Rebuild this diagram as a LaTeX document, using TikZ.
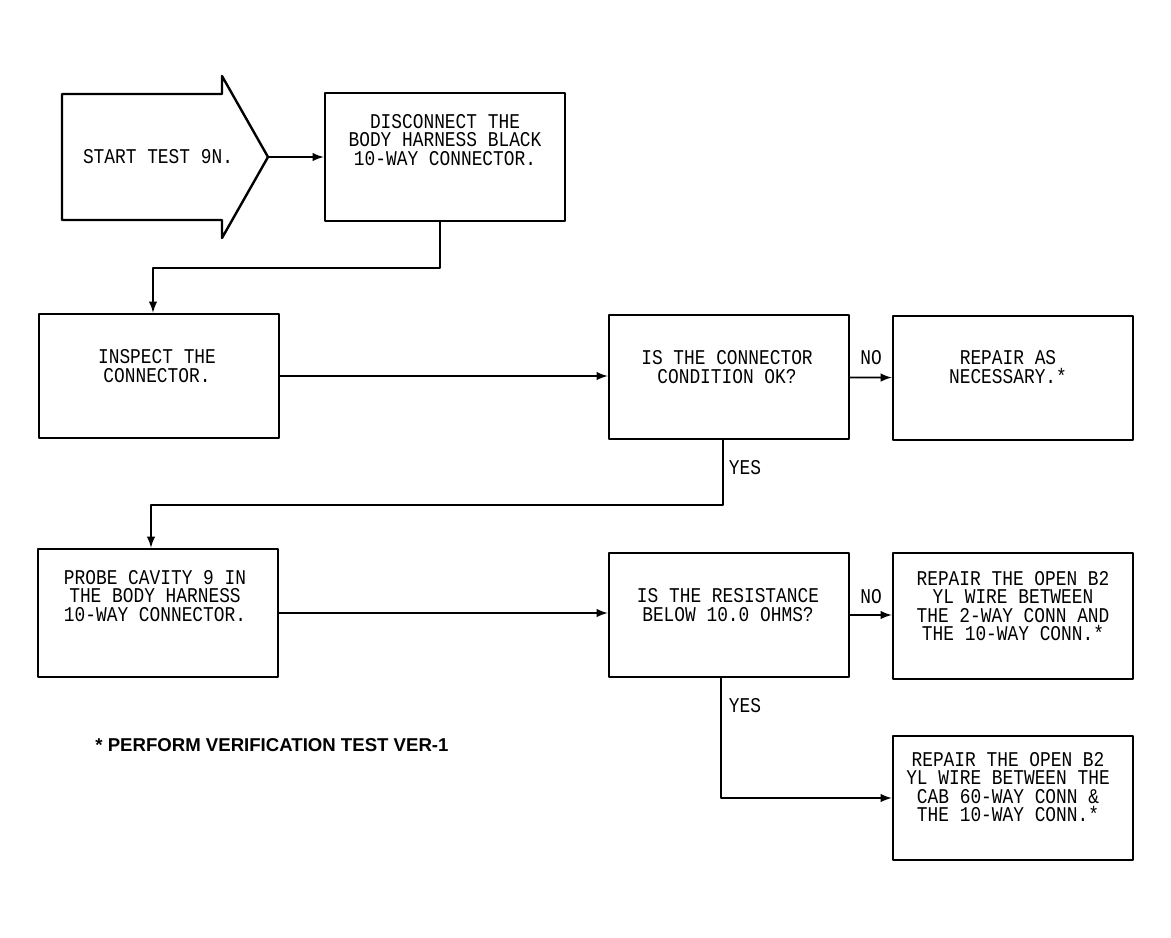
\documentclass[tikz,border=0pt]{standalone}
\usepackage{fontspec}
\newfontfamily\plotfont[FakeStretch=0.85]{Liberation Mono}
\newfontfamily\notefont{Liberation Sans}
\usetikzlibrary{arrows}

\tikzset{
  stepbox/.style={draw,line width=1.3pt,minimum width=120pt,minimum height=62pt,inner sep=0pt},
  boxtext/.style={font=\plotfont\fontsize{10.5}{9.3}\selectfont,align=center,inner sep=0pt},
  flow/.style={->,line width=0.9pt},
}

\begin{document}
\begin{tikzpicture}[line cap=round,line join=round,>=latex,x=0.5pt,y=-0.5pt]
\useasboundingbox (0,0) rectangle (1171,937);
% start arrow
\draw[line width=1.2pt] (62,94) -- (222,94) -- (222,76) -- (268,157) -- (222,238) -- (222,220) -- (62,220) -- cycle;
\coordinate (tip) at (268,157);
\node[boxtext] (start) at (158,157) {START TEST 9N.};
% boxes
\node[stepbox,minimum height=64pt] (disc) at (445,157) {};
\node[stepbox] (inspect) at (159,376) {};
\node[stepbox] (cond) at (729,377) {};
\node[stepbox] (rep1) at (1013,378) {};
\node[stepbox,minimum height=64pt] (probe) at (158,613) {};
\node[stepbox] (resist) at (729,615) {};
\node[stepbox,minimum height=63pt] (rep2) at (1013,616) {};
\node[stepbox] (rep3) at (1013,798) {};
% texts
\node[boxtext] (disct) at (445,140) {DISCONNECT THE\\BODY HARNESS BLACK\\10-WAY CONNECTOR.};
\node[boxtext] (inspectt) at (157,366) {INSPECT THE\\CONNECTOR.};
\node[boxtext] (condt) at (727,367) {IS THE CONNECTOR\\CONDITION OK?};
\node[boxtext] (rep1t) at (1008,367) {REPAIR AS\\NECESSARY.*};
\node[boxtext] (probet) at (155,596) {PROBE CAVITY 9 IN\\THE BODY HARNESS\\10-WAY CONNECTOR.};
\node[boxtext] (resistt) at (728,605) {IS THE RESISTANCE\\BELOW 10.0 OHMS?};
\node[boxtext] (rep2t) at (1013,606) {REPAIR THE OPEN B2\\YL WIRE BETWEEN\\THE 2-WAY CONN AND\\THE 10-WAY CONN.*};
\node[boxtext] (rep3t) at (1008,787) {REPAIR THE OPEN B2\\YL WIRE BETWEEN THE\\CAB 60-WAY CONN \&\\THE 10-WAY CONN.*};
% labels
\node[boxtext] (no1) at (871,358) {NO};
\node[boxtext] (yes1) at (745,468) {YES};
\node[boxtext] (no2) at (871,597) {NO};
\node[boxtext] (yes2) at (745,706) {YES};
\node[anchor=west,inner sep=0pt,font=\notefont\bfseries\fontsize{9.3}{10}\selectfont] (note) at (95,745) {* PERFORM VERIFICATION TEST VER-1};
% connectors
\draw[flow] (tip) -- (disc.west);
\draw[flow] ([xshift=-2.5pt]disc.south) -- ++(0,46) -| ([xshift=-3pt]inspect.north);
\draw[flow] (inspect.east) -- (inspect.east -| cond.west);
\draw[flow] (cond) -- (rep1);
\draw[flow] ([xshift=-3pt]cond.south) -- ++(0,65) -| ([xshift=-3.5pt]probe.north);
\draw[flow] (probe.east) -- (probe.east -| resist.west);
\draw[flow] (resist) -- (resist -| rep2.west);
\draw[flow] ([xshift=-4pt]resist.south) |- (rep3.west);
\end{tikzpicture}
\end{document}
